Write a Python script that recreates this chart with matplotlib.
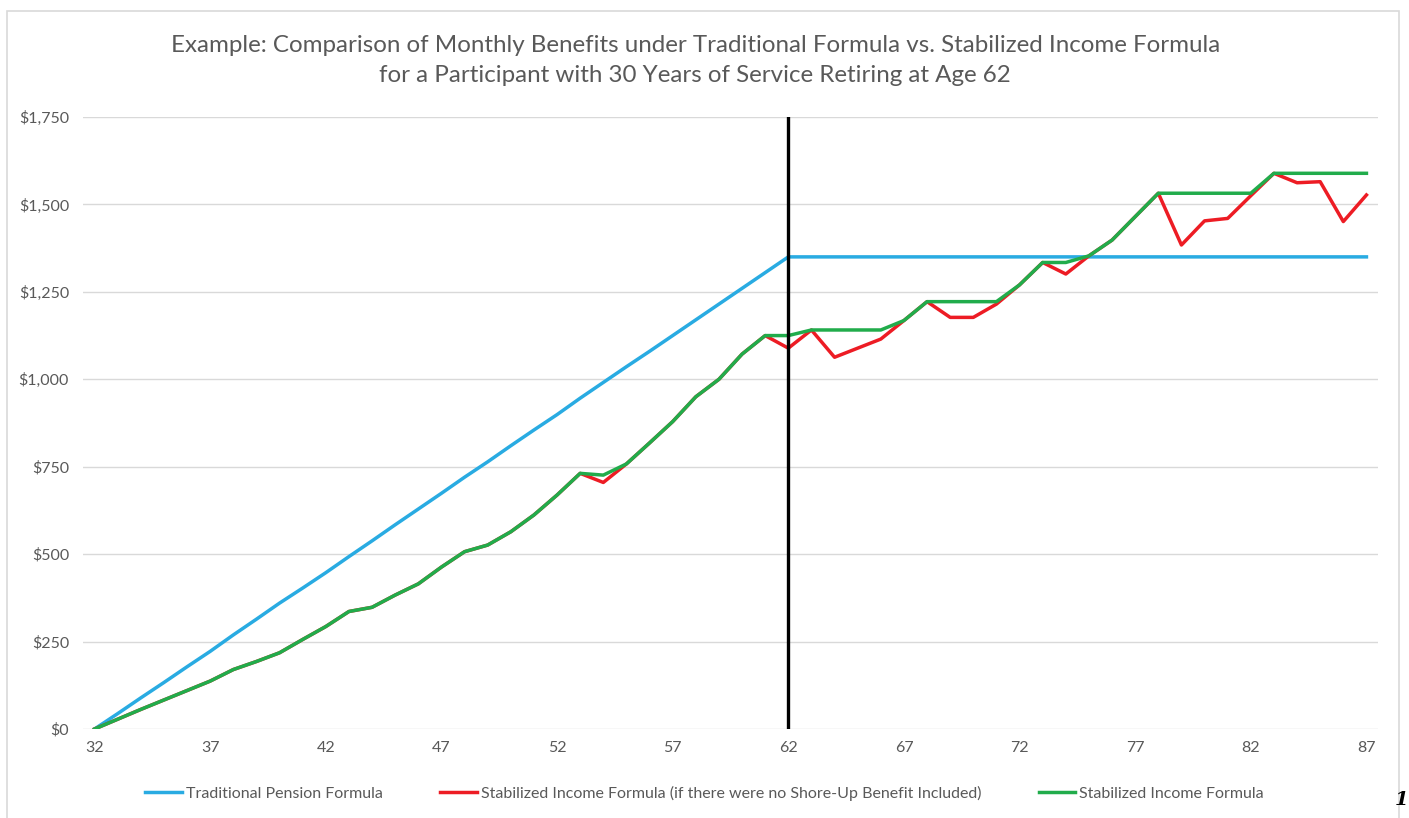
import matplotlib.pyplot as plt
from matplotlib.patches import Rectangle
from matplotlib.ticker import FuncFormatter

ages = list(range(32, 88))

traditional = [0, 44, 89, 133, 178, 222, 269, 314, 360, 403, 447, 493, 538, 584, 629, 674,
               720, 764, 810, 855, 899, 946, 991, 1036, 1080, 1125, 1170, 1215, 1260, 1305, 1350,
               1350, 1350, 1350, 1350, 1350, 1350, 1350, 1350, 1350, 1350, 1350, 1350, 1350,
               1350, 1350, 1350, 1350, 1350, 1350, 1350, 1350, 1350, 1350, 1350, 1350]

no_shore_up = [0, 28, 56, 83, 110, 137, 170, 193, 218, 256, 293, 336, 348, 383, 415, 463,
               507, 526, 564, 612, 669, 731, 705, 758, 818, 879, 950, 1000, 1072, 1125, 1089,
               1141, 1063, 1089, 1115, 1168, 1222, 1177, 1177, 1215, 1270, 1334, 1301, 1353,
               1398, 1465, 1532, 1384, 1453, 1460, 1525, 1589, 1562, 1565, 1451, 1527]

stabilized = [0, 28, 56, 83, 110, 137, 170, 193, 218, 256, 293, 336, 348, 383, 415, 463,
              507, 526, 564, 612, 669, 731, 726, 758, 818, 879, 950, 1000, 1072, 1125, 1125,
              1141, 1141, 1141, 1141, 1168, 1222, 1222, 1222, 1222, 1270, 1334, 1334, 1353,
              1398, 1465, 1532, 1532, 1532, 1532, 1532, 1589, 1589, 1589, 1589, 1589]

retire_age = 62
x_ticks = [32, 37, 42, 47, 52, 57, 62, 67, 72, 77, 82, 87]
y_ticks = [0, 250, 500, 750, 1000, 1250, 1500, 1750]

labels = ["Traditional Pension Formula",
          "Stabilized Income Formula (if there were no Shore-Up Benefit Included)",
          "Stabilized Income Formula"]
colors = ["#29ABE2", "#ED1C24", "#21AC4B"]

plt.rcParams["font.family"] = ["Lato", "DejaVu Sans"]
gray = "#595959"

fig = plt.figure(figsize=(14.09, 8.18), dpi=100)
ax = fig.add_axes([83 / 1409, 1 - 729 / 818, 1295 / 1409, 612 / 818])

for vals, lab, c in zip([traditional, no_shore_up, stabilized], labels, colors):
    ax.plot(ages, vals, color=c, lw=2.5, label=lab, solid_joinstyle="round")

ax.plot([retire_age, retire_age], [0, 1750], color="black", lw=2.4, zorder=5)

ax.set_xlim(31.5, 87.5)
ax.set_ylim(0, 1750)
ax.set_xticks(x_ticks)
ax.set_yticks(y_ticks)
ax.yaxis.set_major_formatter(FuncFormatter(lambda v, p: f"${v:,.0f}"))
ax.tick_params(length=0, labelsize=11.5, colors=gray)
ax.tick_params(axis="y", pad=10)
ax.tick_params(axis="x", pad=9)
ax.grid(axis="y", color="#D9D9D9", lw=1)
ax.set_axisbelow(True)
for s in ax.spines.values():
    s.set_visible(False)

fig.text(0.4935, 1 - 45 / 818, "Example: Comparison of Monthly Benefits under Traditional Formula vs. Stabilized Income Formula",
         ha="center", va="center", fontsize=17.4, color=gray)
fig.text(0.4935, 1 - 76 / 818, "for a Participant with 30 Years of Service Retiring at Age 62",
         ha="center", va="center", fontsize=17.4, color=gray)

fig.legend(loc="center", bbox_to_anchor=(0.5, 1 - 793 / 818), ncol=3, frameon=False,
           fontsize=11.5, labelcolor=gray, handlelength=2.3, handletextpad=0.25,
           columnspacing=3.6)

fig.patches.append(Rectangle((7 / 1409, -0.01), 1392 / 1409, 1 - 11 / 818 + 0.01,
                             transform=fig.transFigure, fill=False, ec="#D9D9D9", lw=1.2))
fig.text(1408 / 1409, 1 - 800 / 818, "1", family="DejaVu Serif", style="italic",
         fontweight="bold", fontsize=14, va="center", ha="right")

fig.savefig("out.png", dpi=100)
